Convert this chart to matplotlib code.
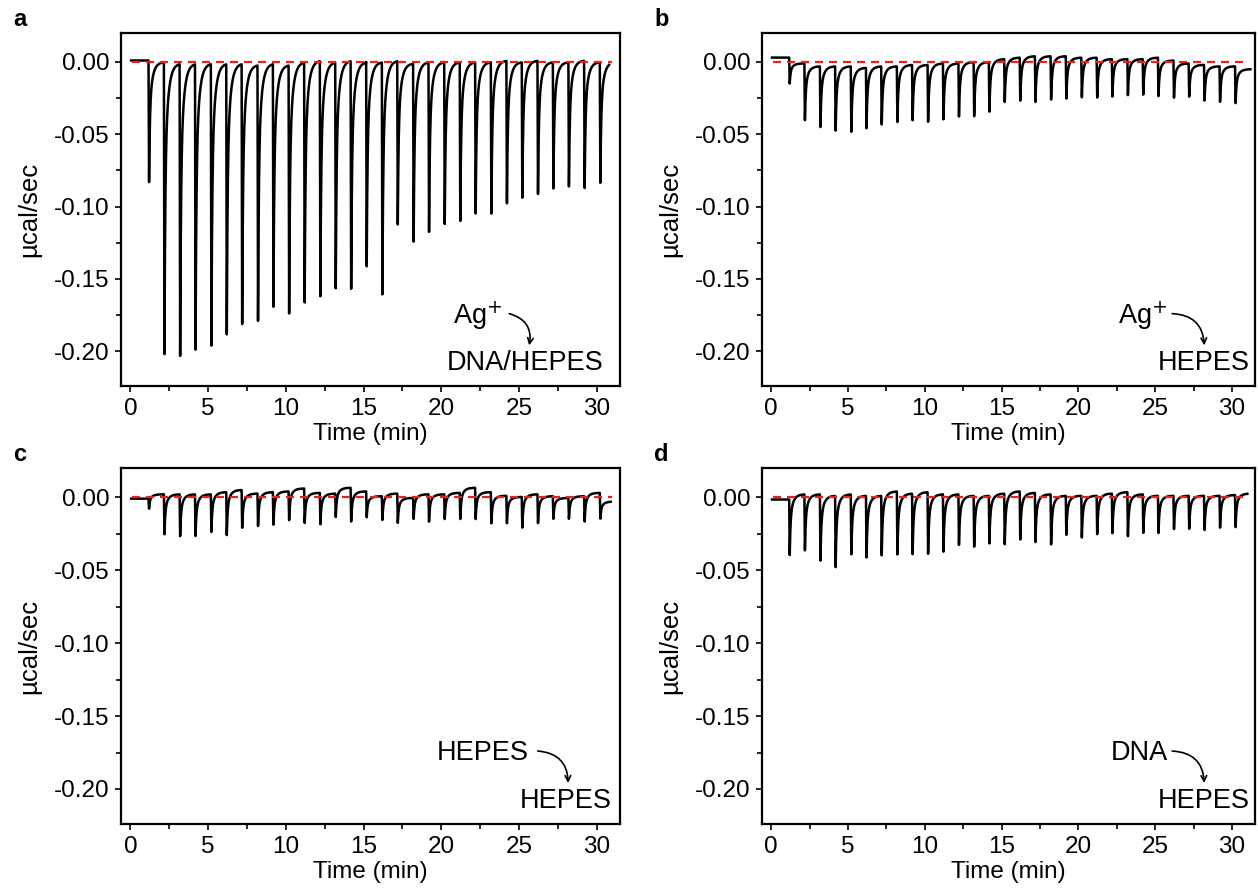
import matplotlib.pyplot as plt
import numpy as np

plt.rcParams['font.family'] = ['Liberation Sans', 'DejaVu Sans']
plt.rcParams['axes.unicode_minus'] = False

# injection times (min), same protocol in all four runs
inject_min = [1.17, 2.16, 3.17, 4.16, 5.18, 6.17, 7.16, 8.18, 9.17, 10.18,
              11.18, 12.19, 13.18, 14.17, 15.17, 16.18, 17.17, 18.19, 19.18, 20.19,
              21.19, 22.18, 23.19, 24.19, 25.18, 26.19, 27.18, 28.18, 29.19, 30.20]

# peak minima (ucal/sec)
peaks_a = [-0.084, -0.202, -0.205, -0.203, -0.200, -0.190, -0.182, -0.180, -0.173, -0.177,
           -0.168, -0.163, -0.158, -0.160, -0.143, -0.162, -0.113, -0.125, -0.120, -0.114,
           -0.111, -0.105, -0.106, -0.100, -0.095, -0.092, -0.088, -0.088, -0.089, -0.085]
peaks_b = [-0.015, -0.041, -0.046, -0.048, -0.049, -0.046, -0.044, -0.042, -0.041, -0.042,
           -0.040, -0.038, -0.038, -0.035, -0.028, -0.027, -0.028, -0.026, -0.026, -0.025,
           -0.025, -0.024, -0.023, -0.023, -0.024, -0.025, -0.024, -0.027, -0.028, -0.029]
peaks_c = [-0.008, -0.026, -0.027, -0.027, -0.024, -0.026, -0.021, -0.020, -0.019, -0.016,
           -0.018, -0.019, -0.014, -0.017, -0.014, -0.016, -0.018, -0.015, -0.017, -0.015,
           -0.015, -0.015, -0.018, -0.018, -0.021, -0.018, -0.015, -0.015, -0.017, -0.015]
peaks_d = [-0.040, -0.037, -0.044, -0.048, -0.040, -0.042, -0.040, -0.040, -0.040, -0.039,
           -0.038, -0.033, -0.034, -0.032, -0.033, -0.029, -0.031, -0.033, -0.026, -0.028,
           -0.026, -0.025, -0.027, -0.025, -0.025, -0.022, -0.022, -0.023, -0.021, -0.021]

# baseline level before the first injection, then after each injection
start_a, base_a = 0.001, [0.0, -0.001, -0.001, -0.001, -0.001, -0.001, -0.002, -0.001, -0.002, 0.0,
                          0.001, 0.0, 0.001, 0.0, 0.0, 0.001, -0.001, 0.0, 0.0, 0.0,
                          0.0, 0.0, 0.001, 0.0, 0.001, 0.0, 0.0, 0.001, 0.0, 0.0]
start_b, base_b = 0.003, [-0.001, -0.003, -0.003, -0.003, -0.004, -0.003, -0.003, -0.002, -0.002, -0.001,
                          -0.001, 0.000, 0.000, 0.002, 0.003, 0.004, 0.004, 0.004, 0.003, 0.003,
                          0.002, 0.002, 0.002, 0.003, 0.001, -0.001, -0.002, -0.003, -0.003, -0.005]
start_c, base_c = -0.001, [0.002, 0.002, 0.002, 0.002, 0.0035, 0.005, 0.0025, 0.0035, 0.004, 0.006,
                           0.003, 0.0025, 0.0065, 0.004, 0.0007, 0.0025, -0.0005, 0.002, 0.002, 0.003,
                           0.0065, 0.0035, 0.001, 0.0002, 0.002, 0.0007, -0.0005, 0.0007, 0.003, -0.003]
start_d, base_d = -0.0016, [0.002, 0.002, 0.001, 0.002, 0.001, 0.001, 0.004, 0.0025, 0.0035, 0.002,
                            0.002, 0.001, 0.001, 0.0025, 0.004, 0.003, 0.002, 0.001, 0.001, 0.001,
                            0.0025, 0.0035, 0.002, 0.001, 0.001, 0.001, 0.001, 0.001, 0.0015, 0.0025]

end_min = [30.8, 31.2, 30.9, 31.0]
labels = ['a', 'b', 'c', 'd']
titrant = ['Ag$^{+}$', 'Ag$^{+}$', 'HEPES', 'DNA']
cell = ['DNA/HEPES', 'HEPES', 'HEPES', 'HEPES']


def thermogram(times, peaks, start, bases, t_end):
    t = np.linspace(0.05, t_end, 12000)
    y = np.full_like(t, start)
    for i, (ti, dp, bl) in enumerate(zip(times, peaks, bases)):
        prev = start if i == 0 else bases[i - 1]
        t_next = times[i + 1] if i + 1 < len(times) else t_end + 1
        m = (t >= ti) & (t < t_next)
        s = t[m] - ti
        drop = 0.035
        rec = 0.6 * np.exp(-(s - drop) / 0.05) + 0.4 * np.exp(-(s - drop) / 0.2)
        y[m] = np.where(s < drop, prev + (dp - prev) * s / drop, bl + (dp - bl) * rec)
    return t, y


def clean_axes(ax):
    for sp in ax.spines.values():
        sp.set_linewidth(1.6)
    ax.tick_params(which='both', direction='out', width=1.2, labelsize=17.5, pad=4.5)
    ax.tick_params(which='major', length=4)
    ax.tick_params(which='minor', length=3.5)


fig = plt.figure(figsize=(12.58, 8.88), dpi=100)
W, H = 1258, 888
boxes = [(121, 33, 620, 386), (762, 33, 1255, 386),
         (121, 468, 620, 824), (762, 468, 1255, 824)]
data = [(peaks_a, start_a, base_a), (peaks_b, start_b, base_b),
        (peaks_c, start_c, base_c), (peaks_d, start_d, base_d)]
# annotation placement (axes fraction): titrant x, arrow start x, arrow end x, cell right edge
ann = [(0.715, 0.778, 0.818, 0.966), (0.772, 0.832, 0.897, 0.99),
       (0.725, 0.835, 0.896, 0.984), (0.765, 0.832, 0.897, 0.99)]

for k, (x0, y0, x1, y1) in enumerate(boxes):
    ax = fig.add_axes([x0 / W, 1 - y1 / H, (x1 - x0) / W, (y1 - y0) / H])
    pk, st, bs = data[k]
    t, y = thermogram(inject_min, pk, st, bs, end_min[k])
    ax.plot([0.1, 31.0], [0, 0], color='#e8211d', lw=1.6, ls=(0, (3.6, 2.7)), zorder=3)
    ax.plot(t, y, color='black', lw=1.8, zorder=2)
    ax.set_xlim(-0.6, 31.5)
    ax.set_ylim(-0.224, 0.020)
    ax.set_xticks([0, 5, 10, 15, 20, 25, 30])
    ax.set_xticks(np.arange(2.5, 31, 5), minor=True)
    ax.set_yticks([0, -0.05, -0.10, -0.15, -0.20])
    ax.set_yticks([-0.025, -0.075, -0.125, -0.175], minor=True)
    ax.set_yticklabels(['0.00', '-0.05', '-0.10', '-0.15', '-0.20'])
    ax.set_xlabel('Time (min)', fontsize=17.5, labelpad=2.5)
    ax.set_ylabel('µcal/sec', fontsize=18.5, labelpad=9)
    clean_axes(ax)

    # titrant -> cell annotation
    tx, a_s, a_e, cx = ann[k]
    ax.text(tx, 0.20, titrant[k], transform=ax.transAxes, fontsize=19.5, ha='center', va='center')
    ax.text(cx, 0.065, cell[k], transform=ax.transAxes, fontsize=19.5, ha='right', va='center')
    ax.annotate('', xy=(a_e, 0.115), xytext=(a_s, 0.205), xycoords='axes fraction',
                arrowprops=dict(arrowstyle='->', color='black', lw=1.2,
                                connectionstyle='arc3,rad=-0.45', shrinkA=0, shrinkB=0))

    fig.text((x0 - 108) / W, 1 - (y0 - 14) / H, labels[k], fontsize=17, fontweight='bold',
             ha='left', va='center')

fig.savefig('out.png', dpi=100)
